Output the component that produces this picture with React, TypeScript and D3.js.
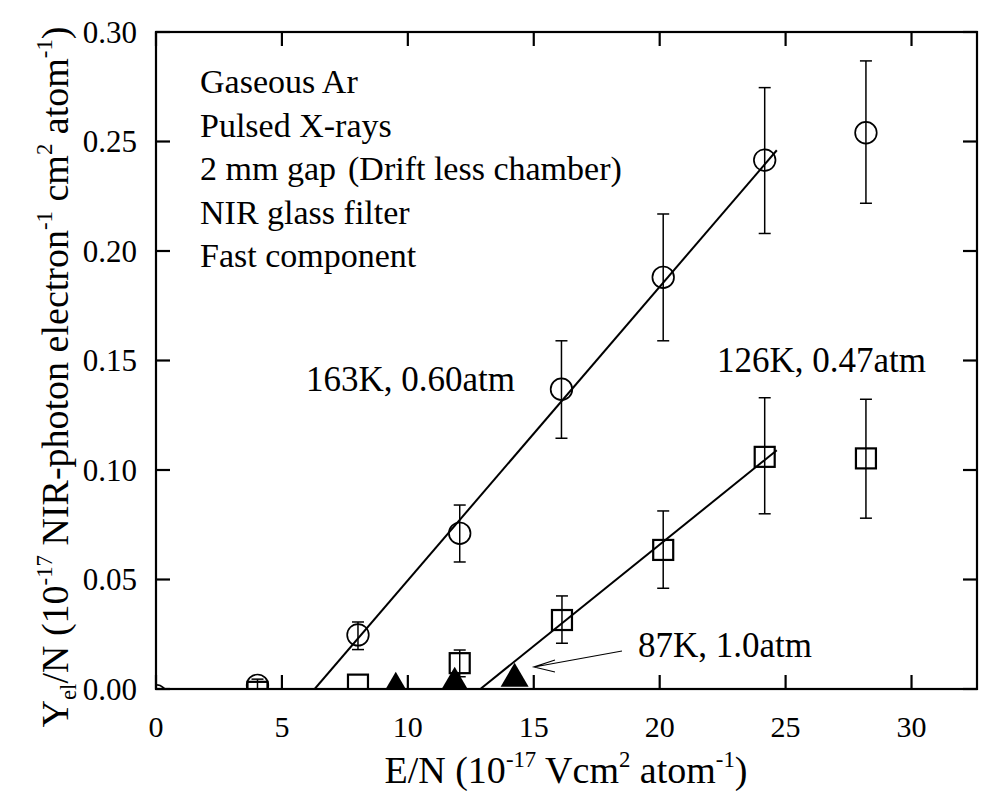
import React, { useRef, useEffect } from "react";
import * as d3 from "d3";

// 163K, 0.60atm (open circles)
const circleX = [0, 4.03, 8.02, 12.06, 16.1, 20.14, 24.17, 28.19];
const circleY = [-0.003, 0.0017, 0.0247, 0.0711, 0.1369, 0.188, 0.2415, 0.254];
const circleHi = [null, 0.0045, 0.0306, 0.084, 0.159, 0.2169, 0.2746, 0.2868];
const circleLo = [null, 0.0, 0.018, 0.058, 0.1145, 0.159, 0.208, 0.2218];

// 126K, 0.47atm (open squares)
const squareX = [4.03, 8.02, 12.06, 16.12, 20.14, 24.17, 28.19];
const squareY = [-0.0013, 0.002, 0.0118, 0.0315, 0.0635, 0.106, 0.1053];
const squareHi = [null, null, 0.0178, 0.0425, 0.0813, 0.133, 0.1323];
const squareLo = [null, null, 0.0056, 0.0209, 0.046, 0.08, 0.078];

// 87K, 1.0atm (filled triangles)
const triangleX = [9.52, 11.86, 14.24];
const triangleY = [0.0024, 0.0047, 0.0065];

// linear fits
const fitCircleX = [6.3, 24.65];
const fitCircleY = [0, 0.246];
const fitSquareX = [12.88, 24.65];
const fitSquareY = [0, 0.109];

const xTicks = [0, 5, 10, 15, 20, 25, 30];
const yTicks = [0, 0.05, 0.1, 0.15, 0.2, 0.25, 0.3];

const insetLines = [
  "Gaseous Ar",
  "Pulsed X-rays",
  "2 mm gap",
  "NIR glass filter",
  "Fast component",
];

const FONT = "'Liberation Serif', 'Times New Roman', serif";
const W = 984;
const H = 791;
const box = { left: 156, top: 32, right: 977, bottom: 689 };

type Seg = { t: string; sup?: boolean; sub?: boolean };

function richText(sel: any, segs: Seg[], size: number) {
  const small = size * 0.6;
  let shift = 0;
  segs.forEach((s) => {
    const target = s.sup ? -size * 0.42 : s.sub ? size * 0.2 : 0;
    sel
      .append("tspan")
      .attr("dy", target - shift)
      .attr("font-size", s.sup || s.sub ? small : size)
      .text(s.t);
    shift = target;
  });
}

const App = () => {
  const ref = useRef<SVGSVGElement | null>(null);

  useEffect(() => {
    const svg = d3.select(ref.current);
    svg.selectAll("*").remove();

    const x = d3.scaleLinear().domain([0, 32.6]).range([box.left, box.right]);
    const y = d3.scaleLinear().domain([0, 0.3]).range([box.bottom, box.top]);

    svg
      .append("defs")
      .append("clipPath")
      .attr("id", "plotclip")
      .append("rect")
      .attr("x", box.left)
      .attr("y", box.top)
      .attr("width", box.right - box.left)
      .attr("height", box.bottom - box.top);

    const plot = svg.append("g").attr("clip-path", "url(#plotclip)");

    // fit lines
    const line = d3
      .line<[number, number]>()
      .x((d) => x(d[0]))
      .y((d) => y(d[1]));
    [
      [fitCircleX, fitCircleY],
      [fitSquareX, fitSquareY],
    ].forEach(([xs, ys]) => {
      plot
        .append("path")
        .attr("d", line(xs.map((v, i) => [v, ys[i]] as [number, number])))
        .attr("fill", "none")
        .attr("stroke", "#000")
        .attr("stroke-width", 2);
    });

    // error bars
    const errBars = (xs: number[], hi: (number | null)[], lo: (number | null)[]) => {
      xs.forEach((xv, i) => {
        const h = hi[i];
        const l = lo[i];
        if (h == null || l == null) return;
        const cx = x(xv);
        plot
          .append("line")
          .attr("x1", cx)
          .attr("x2", cx)
          .attr("y1", y(h))
          .attr("y2", y(l))
          .attr("stroke", "#000")
          .attr("stroke-width", 1.5);
        [h, l].forEach((v) => {
          plot
            .append("line")
            .attr("x1", cx - 6)
            .attr("x2", cx + 6)
            .attr("y1", y(v))
            .attr("y2", y(v))
            .attr("stroke", "#000")
            .attr("stroke-width", 1.5);
        });
      });
    };
    errBars(circleX, circleHi, circleLo);
    errBars(squareX, squareHi, squareLo);

    // markers
    plot
      .selectAll(".circ")
      .data(circleX)
      .join("circle")
      .attr("cx", (d) => x(d))
      .attr("cy", (_, i) => y(circleY[i]))
      .attr("r", 10.8)
      .attr("fill", "none")
      .attr("stroke", "#000")
      .attr("stroke-width", 1.7);

    plot
      .selectAll(".sq")
      .data(squareX)
      .join("rect")
      .attr("x", (d) => x(d) - 10)
      .attr("y", (_, i) => y(squareY[i]) - 10)
      .attr("width", 20)
      .attr("height", 20)
      .attr("fill", "none")
      .attr("stroke", "#000")
      .attr("stroke-width", 2.2);

    plot
      .selectAll(".tri")
      .data(triangleX)
      .join("path")
      .attr("d", (d, i) => {
        const cx = x(d);
        const cy = y(triangleY[i]);
        return `M${cx},${cy - 12}L${cx + 14},${cy + 12}L${cx - 14},${cy + 12}Z`;
      })
      .attr("fill", "#000");

    // frame
    svg
      .append("rect")
      .attr("x", box.left)
      .attr("y", box.top)
      .attr("width", box.right - box.left)
      .attr("height", box.bottom - box.top)
      .attr("fill", "none")
      .attr("stroke", "#000")
      .attr("stroke-width", 2.2);

    // ticks (inward, all four sides)
    const tl = 14;
    xTicks.forEach((t) => {
      [
        [box.bottom, box.bottom - tl],
        [box.top, box.top + tl],
      ].forEach(([a, b]) => {
        svg
          .append("line")
          .attr("x1", x(t))
          .attr("x2", x(t))
          .attr("y1", a)
          .attr("y2", b)
          .attr("stroke", "#000")
          .attr("stroke-width", 2.2);
      });
      svg
        .append("text")
        .attr("x", x(t))
        .attr("y", 737)
        .attr("text-anchor", "middle")
        .attr("font-family", FONT)
        .attr("font-size", 30)
        .text(t);
    });
    yTicks.forEach((t) => {
      [
        [box.left, box.left + tl],
        [box.right, box.right - tl],
      ].forEach(([a, b]) => {
        svg
          .append("line")
          .attr("x1", a)
          .attr("x2", b)
          .attr("y1", y(t))
          .attr("y2", y(t))
          .attr("stroke", "#000")
          .attr("stroke-width", 2.2);
      });
      svg
        .append("text")
        .attr("x", 137)
        .attr("y", y(t))
        .attr("dy", "0.35em")
        .attr("text-anchor", "end")
        .attr("font-family", FONT)
        .attr("font-size", 31)
        .text(d3.format(".2f")(t));
    });

    // axis titles
    const xt = svg
      .append("text")
      .attr("x", 566)
      .attr("y", 783)
      .attr("text-anchor", "middle")
      .attr("font-family", FONT);
    richText(
      xt,
      [
        { t: "E/N (10" },
        { t: "-17", sup: true },
        { t: " Vcm" },
        { t: "2", sup: true },
        { t: " atom" },
        { t: "-1", sup: true },
        { t: ")" },
      ],
      38
    );

    const yt = svg
      .append("text")
      .attr("transform", "translate(68,377) rotate(-90)")
      .attr("text-anchor", "middle")
      .attr("font-family", FONT);
    richText(
      yt,
      [
        { t: "Y" },
        { t: "el", sub: true },
        { t: "/N (10" },
        { t: "-17", sup: true },
        { t: " NIR-photon electron" },
        { t: "-1", sup: true },
        { t: " cm" },
        { t: "2", sup: true },
        { t: " atom" },
        { t: "-1", sup: true },
        { t: ")" },
      ],
      38
    );

    // inset text
    insetLines.forEach((s, i) => {
      svg
        .append("text")
        .attr("x", 200)
        .attr("y", 93 + i * 43.5)
        .attr("font-family", FONT)
        .attr("font-size", 34)
        .text(s);
    });
    svg
      .append("text")
      .attr("x", 348)
      .attr("y", 180)
      .attr("font-family", FONT)
      .attr("font-size", 34)
      .text("(Drift less chamber)");

    // series labels
    const lbl = (tx: number, ty: number, s: string) =>
      svg
        .append("text")
        .attr("x", tx)
        .attr("y", ty)
        .attr("font-family", FONT)
        .attr("font-size", 35)
        .text(s);
    lbl(306, 391, "163K, 0.60atm");
    lbl(717, 372, "126K, 0.47atm");
    lbl(638, 657, "87K, 1.0atm");

    // arrow to 87K series
    svg
      .append("path")
      .attr("d", "M622,651L534,667M555,660L534,667L555,672")
      .attr("fill", "none")
      .attr("stroke", "#000")
      .attr("stroke-width", 1.2);
  }, []);

  return (
    <svg
      ref={ref}
      width={W}
      height={H}
      fontFamily={FONT}
      style={{ position: "absolute", left: 0, top: 0, background: "#fff" }}
    />
  );
};

export default App;
